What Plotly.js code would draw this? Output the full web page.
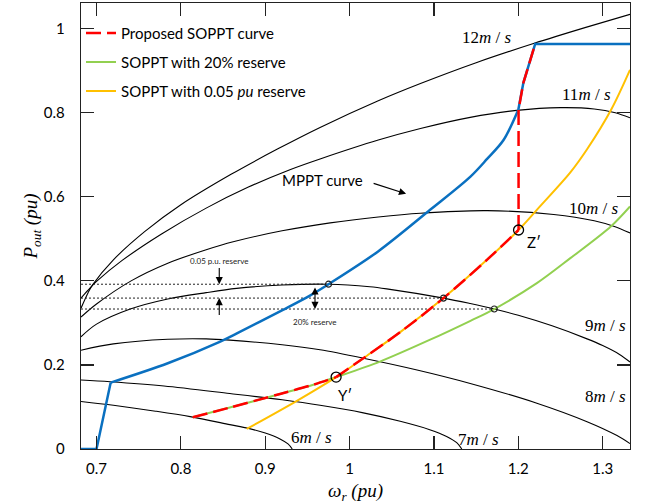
<!DOCTYPE html>
<html><head><meta charset="utf-8">
<script src="https://cdn.plot.ly/plotly-3.0.1.min.js"></script>
<style>html,body{margin:0;padding:0;background:#fff}#chart{width:648px;height:504px}</style>
</head><body><div id="chart"></div>
<script>
// ---- turbine power curves, rotor speed (pu) vs output power (pu) ----
const w6  = [0.6816, 0.72, 0.77, 0.811, 0.858, 0.88, 0.90, 0.9175, 0.927, 0.932];
const p6  = [0.113, 0.104, 0.09, 0.077, 0.058, 0.049, 0.038, 0.024, 0.012, 0];
const w7  = [0.6816, 0.716, 0.78, 0.858, 0.92, 0.965, 1.0163, 1.06, 1.095, 1.115, 1.127, 1.133];
const p7  = [0.164, 0.16, 0.15, 0.132, 0.117, 0.104, 0.086, 0.066, 0.046, 0.03, 0.015, 0];
const w8  = [0.6816, 0.72, 0.7845, 0.83, 0.858, 0.92, 0.965, 1.0163, 1.08, 1.143, 1.222, 1.2815, 1.317, 1.3324];
const p8  = [0.235, 0.25, 0.261, 0.262, 0.259, 0.248, 0.236, 0.216, 0.188, 0.156, 0.109, 0.065, 0.032, 0.013];
const w9  = [0.6816, 0.70, 0.74, 0.7845, 0.83, 0.866, 0.92, 0.975, 1.024, 1.044, 1.1113, 1.143, 1.1715, 1.2, 1.24, 1.2815, 1.30, 1.32, 1.3324];
const p9  = [0.267, 0.297, 0.333, 0.357, 0.372, 0.382, 0.39, 0.392, 0.386, 0.381, 0.359, 0.346, 0.333, 0.318, 0.293, 0.262, 0.246, 0.225, 0.207];
const w10 = [0.6816, 0.70, 0.741, 0.7845, 0.83, 0.862, 0.92, 0.977, 1.034, 1.084, 1.163, 1.242, 1.29, 1.313, 1.3324];
const p10 = [0.314, 0.345, 0.40, 0.442, 0.474, 0.493, 0.519, 0.538, 0.552, 0.561, 0.567, 0.558, 0.543, 0.53, 0.514];
const w11 = [0.6816, 0.69, 0.7014, 0.73, 0.7766, 0.83, 0.88, 0.93, 0.965, 1.034, 1.084, 1.143, 1.198, 1.25, 1.29, 1.315, 1.3324];
const p11 = [0.359, 0.378, 0.401, 0.448, 0.511, 0.573, 0.623, 0.665, 0.69, 0.735, 0.7625, 0.789, 0.8055, 0.812, 0.809, 0.80, 0.788];
const w12 = [0.6816, 0.69, 0.6955, 0.72, 0.757, 0.80, 0.86, 0.915, 0.965, 1.034, 1.084, 1.15, 1.218, 1.28, 1.3324];
const p12 = [0.335, 0.372, 0.391, 0.45, 0.517, 0.581, 0.654, 0.714, 0.765, 0.8285, 0.8695, 0.919, 0.9646, 1.003, 1.034];

// ---- MPPT curve ----
const mpptW = [0.6816, 0.70, 0.7168, 0.7845, 0.846, 0.8664, 0.921, 0.953, 0.975, 1.0338, 1.0955, 1.1433, 1.163, 1.1825, 1.2, 1.206, 1.22, 1.3324];
const mpptP = [0, 0, 0.158, 0.204, 0.255, 0.275, 0.331, 0.365, 0.392, 0.47, 0.569, 0.648, 0.69, 0.735, 0.807, 0.871, 0.9636, 0.9636];

// ---- SOPPT curves ----
const res20W = [0.814, 0.858, 0.9175, 0.957, 0.984, 1.036, 1.0955, 1.1433, 1.1715, 1.222, 1.2617, 1.31, 1.3324];
const res20P = [0.0755, 0.0985, 0.131, 0.153, 0.171, 0.208, 0.26, 0.305, 0.333, 0.3945, 0.454, 0.53, 0.577];
const res05W = [0.878, 0.937, 0.984, 1.0163, 1.06, 1.1113, 1.1628, 1.2003, 1.222, 1.2617, 1.2815, 1.31, 1.3324];
const res05P = [0.0476, 0.114, 0.171, 0.216, 0.278, 0.359, 0.45, 0.521, 0.569, 0.658, 0.713, 0.807, 0.902];
const propW  = [0.814, 0.858, 0.9175, 0.957, 0.984, 1.0163, 1.06, 1.1113, 1.1628, 1.2003, 1.2003, 1.206, 1.22];
const propP  = [0.0755, 0.0985, 0.131, 0.153, 0.171, 0.216, 0.278, 0.359, 0.45, 0.521, 0.807, 0.871, 0.9636];

// ---- operating points and reserve levels ----
const opW = [0.975, 1.1113, 1.1715];
const opP = [0.392, 0.359, 0.333];
const keyW = [0.984, 1.2003];
const keyP = [0.171, 0.521];
const keyNames = ['Y\u2032', 'Z\u2032'];
const speeds = [6, 7, 8, 9, 10, 11, 12];
const xTicks = [0.7, 0.8, 0.9, 1.0, 1.1, 1.2, 1.3];
const yTicks = [0, 0.2, 0.4, 0.6, 0.8, 1.0];
const X0 = 0.6816, X1 = 1.3324, Y0 = 0, Y1 = 1.061;

const curves = [[w6,p6],[w7,p7],[w8,p8],[w9,p9],[w10,p10],[w11,p11],[w12,p12]];
const traces = [];
curves.forEach(c => traces.push({x:c[0], y:c[1], mode:'lines', showlegend:false, hoverinfo:'skip',
  line:{color:'#000', width:1.1, shape:'spline', smoothing:0.9}}));

// dotted reserve lines
opP.forEach((lv, i) => traces.push({x:[X0, opW[i]], y:[lv, lv], mode:'lines', showlegend:false, hoverinfo:'skip',
  line:{color:'#222', width:1, dash:'2px,2px'}}));

const blue = '#0A70C0', green = '#92D050', gold = '#FFC000', red = '#FF0000';
const sl = (a, i, j) => a.slice(i, j);
// MPPT pieces
traces.push({x:sl(mpptW,0,3), y:sl(mpptP,0,3), mode:'lines', showlegend:false, line:{color:blue, width:2.5}});
traces.push({x:sl(mpptW,2,15), y:sl(mpptP,2,15), mode:'lines', showlegend:false, line:{color:blue, width:2.5, shape:'spline', smoothing:0.9}});
traces.push({x:sl(mpptW,14), y:sl(mpptP,14), mode:'lines', showlegend:false, line:{color:blue, width:2.5}});
// reserve curves
traces.push({x:res20W, y:res20P, mode:'lines', name:'SOPPT with 20% reserve', legendrank:2, legendgroup:'b',
  line:{color:green, width:2, shape:'spline', smoothing:0.9}});
traces.push({x:res05W, y:res05P, mode:'lines', name:'SOPPT with 0.05 <i>pu</i> reserve', legendrank:3, legendgroup:'c',
  line:{color:gold, width:2, shape:'spline', smoothing:0.9}});
// proposed
traces.push({x:sl(propW,0,5), y:sl(propP,0,5), mode:'lines', name:'Proposed SOPPT curve', legendrank:1, legendgroup:'a',
  line:{color:red, width:2.5, dash:'15px,6px', shape:'spline', smoothing:0.9}});
traces.push({x:sl(propW,4,10), y:sl(propP,4,10), mode:'lines', showlegend:false, legendgroup:'a',
  line:{color:red, width:2.5, dash:'15px,6px', shape:'spline', smoothing:0.9}});
traces.push({x:sl(propW,9), y:sl(propP,9), mode:'lines', showlegend:false, legendgroup:'a',
  line:{color:red, width:2.5, dash:'15px,6px'}});
// markers
traces.push({x:opW, y:opP, mode:'markers', showlegend:false, marker:{symbol:'circle-open', size:6, color:'#222', line:{width:1.2}}});
traces.push({x:keyW, y:keyP, mode:'markers', showlegend:false, marker:{symbol:'circle-open', size:10, color:'#000', line:{width:1.3}}});

const serif = 'Liberation Serif, Times New Roman, serif';
const sans = 'Lato, Open Sans, sans-serif';
const speedPos = {6:[0.955,0.0262], 7:[1.1524,0.0238], 8:[1.3032,0.1245], 9:[1.3032,0.293], 10:[1.2902,0.573], 11:[1.2807,0.843], 12:[1.1631,0.9786]};
const ann = [];
speeds.forEach(s => ann.push({x:speedPos[s][0], y:speedPos[s][1], xref:'x', yref:'y', showarrow:false,
  text: s + '<i>m</i> / <i>s</i>', font:{family:serif, size:17, color:'#000'}}));
ann.push({x:0.9676, y:0.641, xref:'x', yref:'y', showarrow:false, text:'MPPT curve', font:{family:sans, size:15, color:'#000'}});
ann.push({x:0.9946, y:0.1286, xref:'x', yref:'y', showarrow:false, text:keyNames[0], font:{family:sans, size:15, color:'#000'}});
ann.push({x:1.2183, y:0.4936, xref:'x', yref:'y', showarrow:false, text:keyNames[1], font:{family:sans, size:15, color:'#000'}});
ann.push({x:0.8455, y:0.448, xref:'x', yref:'y', showarrow:false, text:'0.05 p.u. reserve', font:{family:sans, size:8, color:'#222'}});
ann.push({x:0.959, y:0.303, xref:'x', yref:'y', showarrow:false, text:'20% reserve', font:{family:sans, size:8, color:'#222'}});
// arrows (tip at x,y; tail at ax,ay)
const arr = {xref:'x', yref:'y', axref:'x', ayref:'y', text:'', showarrow:true, arrowhead:2, arrowsize:1.3, arrowwidth:1.1, arrowcolor:'#000'};
ann.push(Object.assign({x:1.067, y:0.607, ax:1.0267, ay:0.633}, arr));
ann.push(Object.assign({x:0.8455, y:opP[0], ax:0.8455, ay:0.434}, arr));
ann.push(Object.assign({x:0.8455, y:opP[1], ax:0.8455, ay:0.315}, arr));
ann.push(Object.assign({x:0.959, y:opP[2], ax:0.959, ay:0.388, startarrowhead:2, arrowside:'end+start'}, arr));

const axisCommon = {showgrid:false, zeroline:false, showline:true, linecolor:'#222', linewidth:1.3, mirror:'ticks',
  ticks:'inside', ticklen:13, tickwidth:1.2, tickcolor:'#222', automargin:false,
  tickfont:{family:sans, size:15, color:'#000'}};

const layout = {
  width:648, height:504, paper_bgcolor:'#fff', plot_bgcolor:'#fff',
  margin:{l:81, r:18, t:3, b:55},
  showlegend:true,
  legend:{x:0, y:0.969, xanchor:'left', yanchor:'top', bgcolor:'rgba(0,0,0,0)', borderwidth:0,
    font:{family:sans, size:15, color:'#000'}, tracegroupgap:6.5, traceorder:'grouped'},
  xaxis:Object.assign({}, axisCommon, {range:[X0, X1], tickvals:xTicks, ticklabelstandoff:6,
    title:{text:'<i>\u03c9</i><sub><i>r</i></sub> <i>(pu)</i>', font:{family:serif, size:19, color:'#000'}, standoff:8}}),
  yaxis:Object.assign({}, axisCommon, {range:[Y0, Y1], tickvals:yTicks, ticklabelstandoff:12,
    title:{text:'<i>P</i><sub><i>out</i></sub> <i>(pu)</i>', font:{family:serif, size:19, color:'#000'}, standoff:0}}),
  annotations:ann
};
Plotly.newPlot('chart', traces, layout, {staticPlot:true, displayModeBar:false});
</script></body></html>
